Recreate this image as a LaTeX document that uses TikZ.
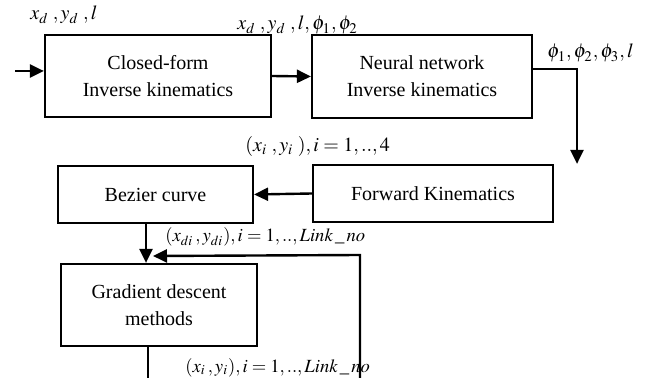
\documentclass[tikz,border=0pt]{standalone}
\usepackage{mathptmx}
\usepackage{fontspec}
\setmainfont{Liberation Serif}
\usetikzlibrary{arrows.meta}

\begin{document}
\begin{tikzpicture}[x=0.5pt,y=-0.5pt,
    blk/.style={draw,line width=1.1pt,align=center,inner sep=0pt,
      font=\fontsize{10}{13.5}\selectfont},
    arr/.style={line width=1.2pt,-{Triangle[length=7pt,width=6.5pt]}},
    lbl/.style={anchor=base west,inner sep=0pt,font=\fontsize{10}{11}\selectfont},
    sml/.style={lbl,font=\fontsize{9.3}{10}\selectfont}]
      \useasboundingbox (0,0) rectangle (646,378);
      % blocks
      \node[blk,minimum width=113pt,minimum height=41pt] (cf) at (158,76) {Closed-form\\Inverse kinematics};
      \node[blk,minimum width=110pt,minimum height=41.5pt] (nn) at (422,76.5) {Neural network\\Inverse kinematics};
      \node[blk,minimum width=120pt,minimum height=28.5pt] (fk) at (433,193.5) {Forward Kinematics};
      \node[blk,minimum width=97.5pt,minimum height=28.5pt] (bz) at (155.5,194.5) {Bezier curve};
      \node[blk,minimum width=98pt,minimum height=41pt] (gd) at (159,305) {Gradient descent\\methods};
      % helper points
      \coordinate (in) at (15,71);
      \coordinate (turn) at (577,69);
      \coordinate (down) at (146,0);
      \coordinate (fbot) at (360,378);
      \coordinate (fturn) at (360,255);
      \coordinate (fin) at (153,256);
      \coordinate (gout) at (148,378);
      % connectors
      \draw[arr] (in) -- (in -| cf.west);
      \draw[arr] (cf.east) -- (nn.west);
      \draw[arr] (turn -| nn.east) -- (turn) -- (turn |- fk.north);
      \draw[arr] (fk.west) -- (bz.east);
      \draw[arr] (bz.south -| down) -- (gd.north -| down);
      \draw[arr] (fbot) -- (fturn) -- (fin);
      \draw[line width=1.2pt] (gd.south -| gout) -- (gout);
      % labels
      \node[lbl] (l1) at (30,20) {$x_d\;,y_d\;,l$};
      \node[lbl] (l2) at (237,30) {$x_d\;,y_d\;,l,\phi_1,\phi_2$};
      \node[lbl] (l3) at (547,58) {$\phi_1,\phi_2,\phi_3,l$};
      \node[lbl] (l4) at (245,152) {$(x_i\;,y_i\;),i=1,..,4$};
      \node[sml] (l5) at (165,242) {$(x_{di}\,,y_{di}),i=1,..,Link\,\_\,no$};
      \node[sml] (l6) at (185,372) {$(x_i\,,y_i),i=1,..,Link\,\_\,no$};
\end{tikzpicture}
\end{document}
